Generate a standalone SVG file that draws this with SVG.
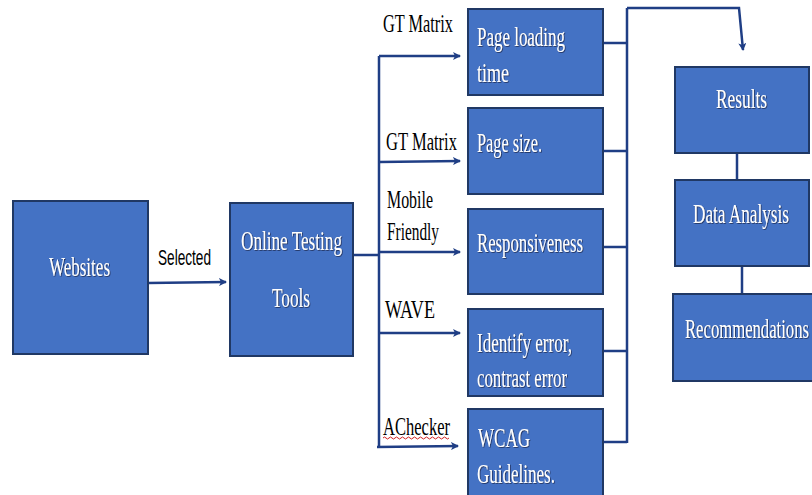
<svg xmlns="http://www.w3.org/2000/svg" width="812" height="495" viewBox="0 0 812 495">
<defs>
<marker id="ah" markerWidth="8" markerHeight="8" refX="7" refY="4" orient="auto" markerUnits="userSpaceOnUse">
<path d="M0,0 L8,4 L0,8 L2,4 Z" fill="#1F3E85"/>
</marker>
<filter id="sh" x="-10%" y="-20%" width="120%" height="140%">
<feDropShadow dx="0.8" dy="0.8" stdDeviation="0.6" flood-color="#1a2a50" flood-opacity="0.9"/>
</filter>
</defs>
<style>
.box{fill:#4472C4;stroke:#203864;stroke-width:2}
.bt{font-size:27px;fill:#ffffff;filter:url(#sh)}
.lt{font-size:25px;fill:#000000}
.st{font-size:22px;fill:#000000}
.ln{stroke:#1F3E85;stroke-width:2.5;fill:none}
.ar{stroke:#1F3E85;stroke-width:2.5;fill:none;marker-end:url(#ah)}
</style>
<rect width="812" height="495" fill="#ffffff"/>
<g id="connectors">
<path class="ar" d="M148,283 L226,282"/>
<path class="ln" d="M353,255 L379,255"/>
<path class="ln" d="M379,56 L379,448"/>
<path class="ar" d="M379,56 L460,56"/>
<path class="ar" d="M379,162 L460,161"/>
<path class="ar" d="M379,252 L460,252"/>
<path class="ar" d="M379,333 L460,333"/>
<path class="ar" d="M377,447 L458,446"/>
<path class="ln" d="M603,43 L627,43"/>
<path class="ln" d="M603,151 L627,151"/>
<path class="ln" d="M603,247 L627,247"/>
<path class="ln" d="M603,351 L627,351"/>
<path class="ln" d="M603,442 L627,442"/>
<path class="ln" d="M627,8 L627,443"/>
<path class="ar" d="M627,8 L739,8 L743,50"/>
<path class="ln" d="M737,153 L737,180"/>
<path class="ln" d="M742,266 L742,294"/>
</g>
<g font-family="Liberation Serif, Times New Roman, DejaVu Serif, serif">
<g id="websites">
<rect class="box" x="13" y="201" width="135" height="153"/>
<text class="bt" x="49" y="276" textLength="61" lengthAdjust="spacingAndGlyphs">Websites</text>
</g>
<g id="label-selected">
<text class="st" font-family="Liberation Sans, Arial, sans-serif" x="158" y="265" textLength="53" lengthAdjust="spacingAndGlyphs">Selected</text>
</g>
<g id="online-testing-tools">
<rect class="box" x="230" y="203" width="123" height="153"/>
<text class="bt" x="241" y="250" textLength="101" lengthAdjust="spacingAndGlyphs">Online Testing</text>
<text class="bt" x="272" y="307" textLength="38" lengthAdjust="spacingAndGlyphs">Tools</text>
</g>
<g id="tool-labels">
<text class="lt" x="383" y="32" textLength="70" lengthAdjust="spacingAndGlyphs">GT Matrix</text>
<text class="lt" x="386" y="150" textLength="71" lengthAdjust="spacingAndGlyphs">GT Matrix</text>
<text class="lt" x="387" y="208" textLength="46" lengthAdjust="spacingAndGlyphs">Mobile</text>
<text class="lt" x="387" y="240" textLength="52" lengthAdjust="spacingAndGlyphs">Friendly</text>
<text class="lt" x="385" y="318" textLength="50" lengthAdjust="spacingAndGlyphs">WAVE</text>
<text class="lt" x="383" y="435" textLength="67" lengthAdjust="spacingAndGlyphs">AChecker</text>
<path d="M383,438 q1.5,-2 3,0 t3,0 t3,0 t3,0 t3,0 t3,0 t3,0 t3,0 t3,0 t3,0 t3,0 t3,0 t3,0 t3,0 t3,0 t3,0 t3,0 t3,0 t3,0 t3,0 t3,0 t3,0" stroke="#d02020" stroke-width="1" fill="none"/>
</g>
<g id="page-loading-time">
<rect class="box" x="468" y="9" width="135" height="86"/>
<text class="bt" x="477" y="46" textLength="88" lengthAdjust="spacingAndGlyphs">Page loading</text>
<text class="bt" x="477" y="82" textLength="32" lengthAdjust="spacingAndGlyphs">time</text>
</g>
<g id="page-size">
<rect class="box" x="468" y="108" width="135" height="86"/>
<text class="bt" x="477" y="152" textLength="65" lengthAdjust="spacingAndGlyphs">Page size.</text>
</g>
<g id="responsiveness">
<rect class="box" x="468" y="209" width="135" height="85"/>
<text class="bt" x="477" y="252" textLength="106" lengthAdjust="spacingAndGlyphs">Responsiveness</text>
</g>
<g id="identify-error">
<rect class="box" x="468" y="309" width="135" height="87"/>
<text class="bt" x="477" y="352" textLength="95" lengthAdjust="spacingAndGlyphs">Identify error,</text>
<text class="bt" x="477" y="387" textLength="90" lengthAdjust="spacingAndGlyphs">contrast error</text>
</g>
<g id="wcag-guidelines">
<rect class="box" x="468" y="409" width="135" height="90"/>
<text class="bt" x="478" y="447" textLength="52" lengthAdjust="spacingAndGlyphs">WCAG</text>
<text class="bt" x="477" y="483" textLength="78" lengthAdjust="spacingAndGlyphs">Guidelines.</text>
</g>
<g id="results">
<rect class="box" x="675" y="67" width="134" height="86"/>
<text class="bt" x="716" y="108" textLength="51" lengthAdjust="spacingAndGlyphs">Results</text>
</g>
<g id="data-analysis">
<rect class="box" x="675" y="180" width="134" height="86"/>
<text class="bt" x="693" y="223" textLength="96" lengthAdjust="spacingAndGlyphs">Data Analysis</text>
</g>
<g id="recommendations">
<rect class="box" x="673" y="294" width="142" height="87"/>
<text class="bt" x="685" y="338" textLength="124" lengthAdjust="spacingAndGlyphs">Recommendations</text>
</g>
</g>
</svg>
